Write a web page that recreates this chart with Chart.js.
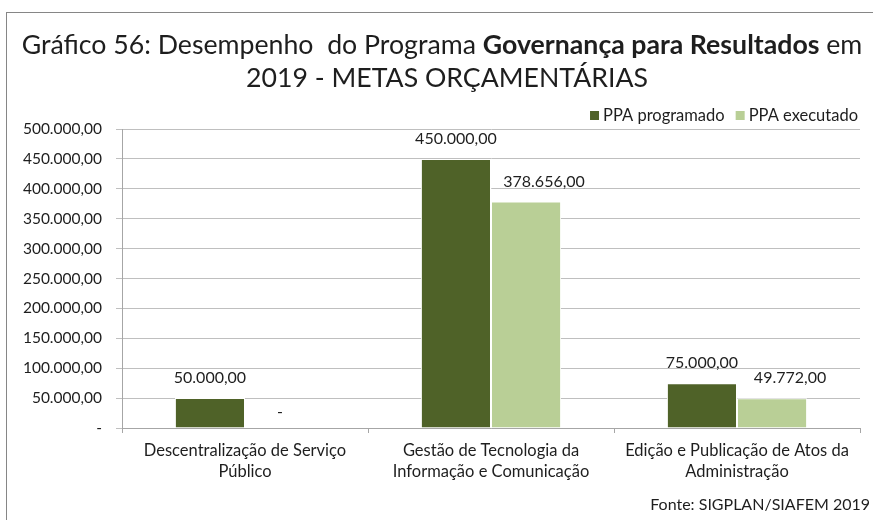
<!DOCTYPE html>
<html>
<head>
<meta charset="utf-8">
<script src="https://cdn.jsdelivr.net/npm/chart.js@4/dist/chart.umd.min.js"></script>
<style>
  html, body { margin: 0; padding: 0; background: #ffffff; }
  #wrap { width: 873px; height: 520px; position: relative; }
</style>
</head>
<body>
<div id="wrap"><canvas id="c" width="873" height="520"></canvas></div>
<script>
// Categories (two-line labels) and series values
const categories = [
  ['Descentralização de Serviço', 'Público'],
  ['Gestão de Tecnologia da', 'Informação e Comunicação'],
  ['Edição e Publicação de Atos da', 'Administração']
];
const seriesNames = ['PPA programado', 'PPA executado'];
const programado = [50000, 450000, 75000];
const executado = [0, 378656, 49772];
const seriesColors = ['#4f6228', '#b9cf96'];

const yMax = 500000;
const yStep = 50000;

const titleLine1 = [
  { text: 'Gráfico 56: Desempenho  do Programa ', bold: false },
  { text: 'Governança para Resultados', bold: true },
  { text: ' em', bold: false }
];
const titleLine2 = '2019 - METAS ORÇAMENTÁRIAS';
const sourceNote = 'Fonte: SIGPLAN/SIAFEM 2019';

const FONT = 'Lato, "Open Sans", sans-serif';
const TEXT = '#1e1e1e';

// Brazilian number format: 378.656,00 ; zero shown as "-"
function fmtBR(v) {
  if (v === 0) return '-';
  const fixed = Math.abs(v).toFixed(2);
  const [intPart, dec] = fixed.split('.');
  const withDots = intPart.replace(/\B(?=(\d{3})+(?!\d))/g, '.');
  return (v < 0 ? '-' : '') + withDots + ',' + dec;
}

const decorations = {
  id: 'decorations',
  beforeDraw(chart) {
    const ctx = chart.ctx;
    ctx.save();
    ctx.fillStyle = '#ffffff';
    ctx.fillRect(0, 0, chart.width, chart.height);
    // outer frame
    ctx.strokeStyle = '#868686';
    ctx.lineWidth = 1;
    ctx.strokeRect(6.5, 12.5, 870, 520);
    ctx.restore();
  },
  afterDatasetsDraw(chart) {
    const ctx = chart.ctx;
    ctx.save();
    ctx.font = '16px ' + FONT;
    ctx.fillStyle = TEXT;
    ctx.textAlign = 'center';
    ctx.textBaseline = 'middle';
    chart.data.datasets.forEach((ds, di) => {
      const meta = chart.getDatasetMeta(di);
      meta.data.forEach((bar, i) => {
        const v = ds.data[i];
        const dx = (di === 1 && v !== 0) ? 18 : 0;
        const dy = v === 0 ? 16 : 20;
        ctx.fillText(fmtBR(v), bar.x + dx, bar.y - dy);
      });
    });
    ctx.restore();
  },
  afterDraw(chart) {
    const ctx = chart.ctx;
    ctx.save();
    ctx.fillStyle = TEXT;
    ctx.textBaseline = 'middle';
    // title line 1 with bold segment
    const size = 26.7;
    let total = 0;
    const widths = titleLine1.map(seg => {
      ctx.font = (seg.bold ? 'bold ' : '') + size + 'px ' + FONT;
      const w = ctx.measureText(seg.text).width;
      total += w;
      return w;
    });
    let x = 442 - total / 2;
    ctx.textAlign = 'left';
    titleLine1.forEach((seg, i) => {
      ctx.font = (seg.bold ? 'bold ' : '') + size + 'px ' + FONT;
      ctx.fillText(seg.text, x, 45);
      x += widths[i];
    });
    ctx.font = size + 'px ' + FONT;
    ctx.textAlign = 'center';
    ctx.fillText(titleLine2, 447, 78);

    // legend, right aligned
    ctx.font = '16.5px ' + FONT;
    ctx.textAlign = 'left';
    const box = 9, gapBox = 4, gapItem = 11;
    const itemW = seriesNames.map(n => box + gapBox + ctx.measureText(n).width);
    let lx = 858 - itemW.reduce((a, b) => a + b, 0) - gapItem * (seriesNames.length - 1);
    seriesNames.forEach((n, i) => {
      ctx.fillStyle = seriesColors[i];
      ctx.fillRect(lx, 111, box, box);
      ctx.fillStyle = TEXT;
      ctx.fillText(n, lx + box + gapBox, 115.5);
      lx += itemW[i] + gapItem;
    });

    // source note
    ctx.textAlign = 'right';
    ctx.font = '16px ' + FONT;
    ctx.fillText(sourceNote, 870, 505);
    ctx.restore();
  }
};

new Chart(document.getElementById('c'), {
  type: 'bar',
  data: {
    labels: categories,
    datasets: [
      { label: seriesNames[0], data: programado, backgroundColor: seriesColors[0],
        borderColor: '#ffffff', borderWidth: 1, categoryPercentage: 0.57, barPercentage: 1 },
      { label: seriesNames[1], data: executado, backgroundColor: seriesColors[1],
        borderColor: '#ffffff', borderWidth: 1, categoryPercentage: 0.57, barPercentage: 1 }
    ]
  },
  options: {
    responsive: false,
    animation: false,
    devicePixelRatio: 1,
    layout: { padding: { top: 129, right: 13, left: 0, bottom: 0 } },
    plugins: {
      legend: { display: false },
      title: { display: false },
      tooltip: { enabled: false }
    },
    scales: {
      y: {
        min: 0,
        max: yMax,
        ticks: {
          stepSize: yStep,
          color: TEXT,
          font: { family: FONT, size: 15.5 },
          padding: 14,
          callback: v => fmtBR(v)
        },
        grid: { color: '#bfbfbf', tickLength: 6, lineWidth: 1 },
        border: { color: '#a6a6a6' },
        afterFit(s) { s.width = 122; }
      },
      x: {
        offset: true,
        ticks: {
          color: TEXT,
          font: { family: FONT, size: 16.5, lineHeight: 1.22 },
          padding: 8,
          maxRotation: 0,
          autoSkip: false
        },
        grid: { offset: true, drawOnChartArea: false, drawTicks: true, tickLength: 5, color: '#a6a6a6' },
        border: { color: '#a6a6a6' },
        afterFit(s) { s.height = 520 - 428; }
      }
    }
  },
  plugins: [decorations]
});
</script>
</body>
</html>
